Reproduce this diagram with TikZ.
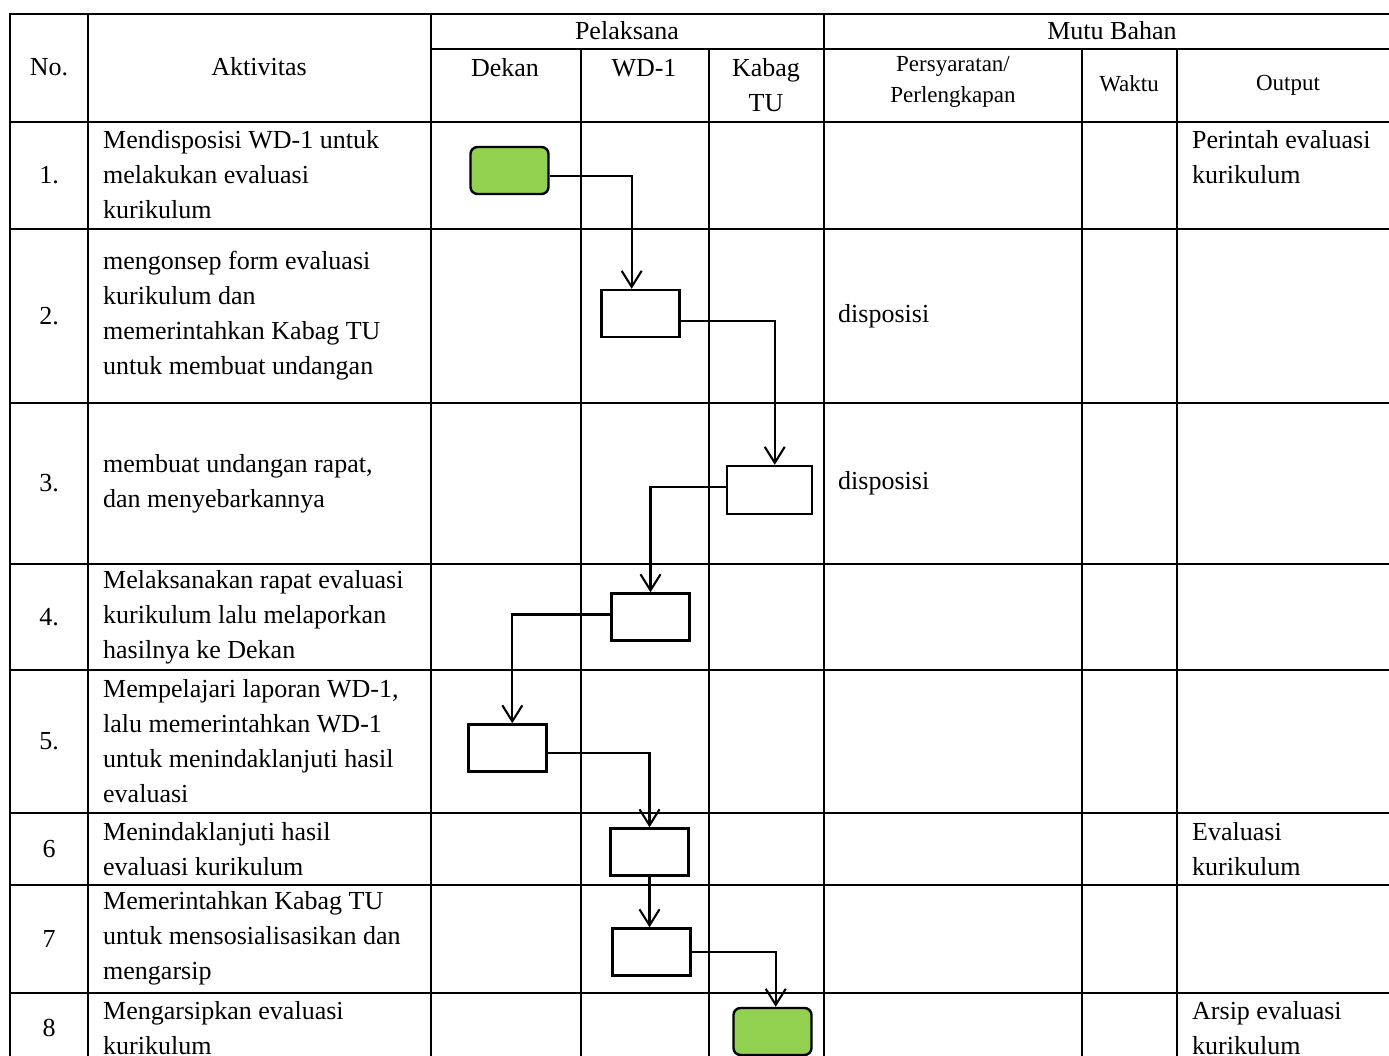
\documentclass[tikz,border=0pt]{standalone}
\usepackage{fontspec}
\setmainfont{Liberation Serif}
\usetikzlibrary{arrows.meta,positioning,calc}
\definecolor{actgreen}{HTML}{92D050}

\begin{document}
\begin{tikzpicture}[
  x=1pt,y=-1pt,
  every node/.style={font=\fontsize{26}{35}\selectfont,inner sep=0pt},
  hdr/.style={font=\fontsize{23}{31}\selectfont,align=center},
  txt/.style={anchor=west,align=left},
  grid/.style={line width=1.5pt},
  act/.style={draw,line width=2.4pt,minimum width=78pt,minimum height=47pt},
  term/.style={act,fill=actgreen,rounded corners=7pt},
  arr/.style={-{Straight Barb[length=16pt,width=20pt]},line width=2.1pt}
]
\useasboundingbox (0,0) rectangle (1389,1056);
% table lines
\draw[grid] (1389,14) -- (10,14) -- (10,1056);
\draw[grid] (431,49) -- (1389,49);
\foreach \y in {122,229,403,564,670,813,885,993}
  \draw[grid] (10,\y) -- (1389,\y);
\foreach \x in {88,431,824}
  \draw[grid] (\x,14) -- (\x,1056);
\foreach \x in {581,709,1082,1177}
  \draw[grid] (\x,49) -- (\x,1056);
% header
\node (hno) at (49,67) {No.};
\node (hakt) at (259,67) {Aktivitas};
\node (hpel) at (627,31) {Pelaksana};
\node (hmutu) at (1112,31) {Mutu Bahan};
\node (hdekan) at (505,68) {Dekan};
\node (hwd) at (644,68) {WD-1};
\node[align=center] (hkabag) at (766,85) {Kabag\\TU};
\node[hdr] (hsyarat) at (953,82) {Persyaratan/\\Perlengkapan};
\node[hdr] (hwaktu) at (1129,84) {Waktu};
\node[hdr] (hout) at (1288,85) {Output};
% row numbers
\foreach \t/\y [count=\i] in {1./175.5,2./316,3./483.5,4./617,5./741.5,6/849,7/939,8/1028}
  \node (num\i) at (49,\y) {\t};
% activities
\node[txt] (akt1) at (103,175) {Mendisposisi WD-1 untuk\\melakukan evaluasi\\kurikulum};
\node[txt] (akt2) at (103,315.5) {mengonsep form evaluasi\\kurikulum dan\\memerintahkan Kabag TU\\untuk membuat undangan};
\node[txt] (akt3) at (103,483.5) {membuat undangan rapat,\\dan menyebarkannya};
\node[txt] (akt4) at (103,617) {Melaksanakan rapat evaluasi\\kurikulum lalu melaporkan\\hasilnya ke Dekan};
\node[txt] (akt5) at (103,741.5) {Mempelajari laporan WD-1,\\lalu memerintahkan WD-1\\untuk menindaklanjuti hasil\\evaluasi};
\node[txt] (akt6) at (103,849.5) {Menindaklanjuti hasil\\evaluasi kurikulum};
\node[txt] (akt7) at (103,938) {Memerintahkan Kabag TU\\untuk mensosialisasikan dan\\mengarsip};
\node[txt] (akt8) at (103,1028) {Mengarsipkan evaluasi\\kurikulum};
% mutu bahan
\node[txt] (syarat2) at (838,316) {disposisi};
\node[txt] (syarat3) at (838,483) {disposisi};
\node[txt] (out1) at (1192,157.5) {Perintah evaluasi\\kurikulum};
\node[txt] (out6) at (1192,849.5) {Evaluasi\\kurikulum};
\node[txt] (out8) at (1192,1028) {Arsip evaluasi\\kurikulum};
% flow
\node[term] (b1) at (509.5,170.5) {};
\node[act] (b2) at (640.5,313.5) {};
\node[act,minimum width=85pt,minimum height=48pt] (b3) at (769.5,490) {};
\node[act] (b4) at (650.5,617) {};
\node[act] (b5) at (507.5,748) {};
\node[act] (b6) at (649.5,852) {};
\node[act] (b7) at (651.5,952) {};
\node[term] (b8) at (772.5,1031.5) {};
\draw[arr] ($(b1.north east)!0.62!(b1.south east)$) -| ($(b2.north west)!0.39!(b2.north east)$);
\draw[arr] ($(b2.north east)!0.66!(b2.south east)$) -| ($(b3.north west)!0.56!(b3.north east)$);
\draw[arr] ($(b3.north west)!0.44!(b3.south west)$) -| (b4.north);
\draw[arr] ($(b4.north west)!0.45!(b4.south west)$) -| ($(b5.north west)!0.56!(b5.north east)$);
\draw[arr] ($(b5.north east)!0.6!(b5.south east)$) -| (b6.north);
\draw[arr] (b6.south) -- (b6.south |- b7.north);
\draw[arr] (b7.east) -| ($(b8.north west)!0.54!(b8.north east)$);
\end{tikzpicture}
\end{document}
